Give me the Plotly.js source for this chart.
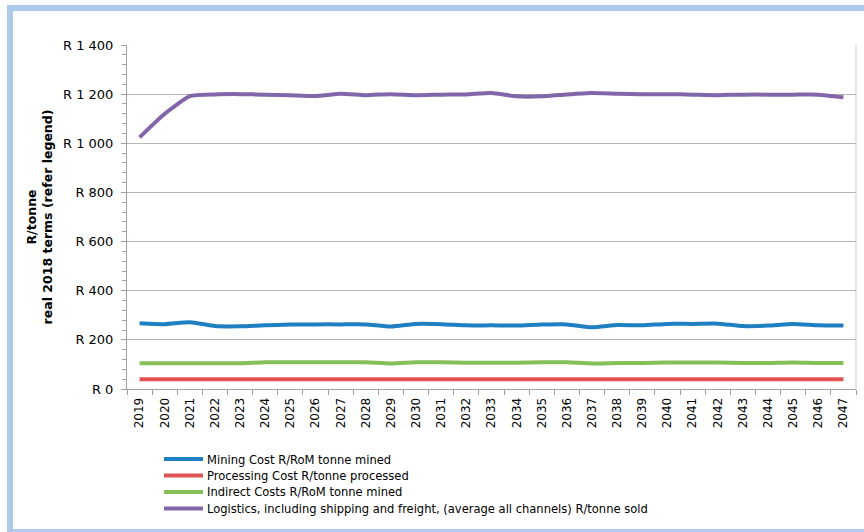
<!DOCTYPE html>
<html>
<head>
<meta charset="utf-8">
<script src="https://cdn.plot.ly/plotly-3.0.1.min.js"></script>
<style>
  html, body { margin: 0; padding: 0; background: #ffffff; overflow: hidden; }
  #chart { width: 864px; height: 532px; }
</style>
</head>
<body>
<div id="chart"></div>
<script>
const years = ["2019","2020","2021","2022","2023","2024","2025","2026","2027","2028",
  "2029","2030","2031","2032","2033","2034","2035","2036","2037","2038",
  "2039","2040","2041","2042","2043","2044","2045","2046","2047"];

const miningCost = [268,264,272,256,255,259,262,263,263,263,
  254,265,264,259,259,258,262,263,251,260,
  259,265,265,266,256,258,265,259,258];

const processingCost = [40,40,40,40,40,40,40,40,40,40,
  40,40,40,40,40,40,40,40,40,40,
  40,40,40,40,40,40,40,40,40];

const indirectCosts = [105,105,105,105,105,109,109,109,109,109,
  104,109,109,107,107,107,109,109,104,106,
  106,108,108,108,106,106,108,106,106];

const logistics = [1024,1120,1192,1199,1200,1198,1195,1192,1202,1196,
  1200,1196,1198,1199,1205,1191,1191,1199,1205,1202,
  1200,1200,1198,1196,1198,1198,1198,1198,1187];

const seriesNames = [
  "Mining Cost R/RoM tonne mined",
  "Processing Cost R/tonne processed",
  "Indirect Costs R/RoM tonne mined",
  "Logistics, including shipping and freight, (average all channels) R/tonne sold"
];
const seriesColors = ["#1f7fc1", "#e05352", "#86bf58", "#8166aa"];
const seriesValues = [miningCost, processingCost, indirectCosts, logistics];

const yTickVals = [0, 200, 400, 600, 800, 1000, 1200, 1400];
const yTickText = ["R 0", "R 200", "R 400", "R 600", "R 800", "R 1 000", "R 1 200", "R 1 400"];

const FONT = "DejaVu Sans, Verdana, sans-serif";
const LEGFONT = "DejaVu Sans Condensed, DejaVu Sans, sans-serif";

// plot area geometry (px) used to place frame and legend in paper coords
const L = 127, R = 856, T = 45, B = 389;
const W = R - L, H = B - T;
const px = x => (x - L) / W;
const py = y => (B - y) / H;

const traces = seriesValues.map((vals, i) => ({
  type: "scatter",
  mode: "lines",
  x: years,
  y: vals,
  name: seriesNames[i],
  line: { color: seriesColors[i], width: 4, shape: "spline", smoothing: 0.5 },
  showlegend: false,
  hoverinfo: "x+y+name"
}));

const shapes = [
  // outer light-blue frame
  { type: "rect", xref: "paper", yref: "paper",
    x0: px(10), x1: px(880), y0: py(532), y1: py(8),
    line: { color: "#aecbec", width: 6 }, fillcolor: "rgba(0,0,0,0)", layer: "below" },
  // right border of plot area
  { type: "line", xref: "paper", yref: "paper", x0: 1, x1: 1, y0: 0, y1: 1,
    line: { color: "#c8c8c8", width: 1 } }
];
const annotations = [];
const legendY = [459, 475.5, 492, 508.5];
seriesNames.forEach((n, i) => {
  shapes.push({ type: "line", xref: "paper", yref: "paper",
    x0: px(164), x1: px(203), y0: py(legendY[i]), y1: py(legendY[i]),
    line: { color: seriesColors[i], width: 4 } });
  annotations.push({ xref: "paper", yref: "paper", x: px(205), y: py(legendY[i]),
    xanchor: "left", yanchor: "middle", showarrow: false, text: n,
    font: { family: LEGFONT, size: 12.8, color: "#000000" } });
});

const layout = {
  width: 864, height: 532,
  margin: { l: L, r: 864 - R, t: T, b: 532 - B, pad: 0 },
  paper_bgcolor: "#ffffff",
  plot_bgcolor: "#ffffff",
  font: { family: FONT, size: 12, color: "#000000" },
  showlegend: false,
  xaxis: {
    type: "category",
    range: [-0.5, years.length - 0.5],
    tickangle: -90,
    ticks: "outside",
    tickson: "boundaries",
    ticklen: 5,
    tickcolor: "#a0a0a0",
    ticklabelstandoff: 3,
    showgrid: false,
    showline: true,
    linecolor: "#a0a0a0",
    linewidth: 1,
    tickfont: { family: FONT, size: 12, color: "#000000" },
    fixedrange: true
  },
  yaxis: {
    range: [0, 1400],
    tickvals: yTickVals,
    ticktext: yTickText,
    ticks: "outside",
    ticklen: 5,
    tickcolor: "#a0a0a0",
    ticklabelstandoff: 5,
    showgrid: true,
    gridcolor: "#b4b4b4",
    gridwidth: 1,
    zeroline: false,
    showline: true,
    linecolor: "#a0a0a0",
    linewidth: 1,
    minor: { dtick: 40, ticks: "outside", ticklen: 4, tickcolor: "#a0a0a0", showgrid: false },
    tickfont: { family: FONT, size: 13, color: "#000000" },
    title: {
      text: "<b>R/tonne<br>real 2018 terms (refer legend)</b>",
      font: { family: FONT, size: 12.5, color: "#000000" },
      standoff: 7
    },
    fixedrange: true
  },
  shapes: shapes,
  annotations: annotations
};

Plotly.newPlot("chart", traces, layout, { displayModeBar: false, staticPlot: true });
</script>
</body>
</html>
